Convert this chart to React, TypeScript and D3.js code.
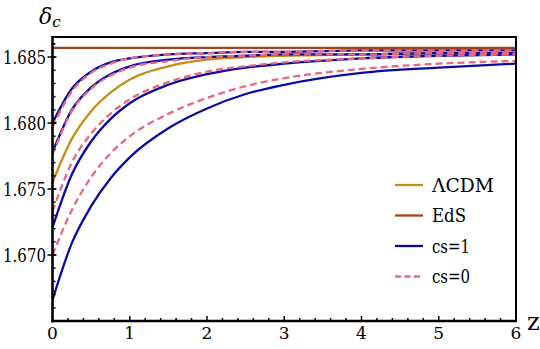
import React, { useRef, useEffect } from "react";
import * as d3 from "d3";

// redshift samples shared by every curve
const zGrid = [0, 0.25, 0.5, 0.75, 1, 1.5, 2, 2.5, 3, 4, 5, 6];

const lcdmValues = [1.6755, 1.6788, 1.6809, 1.6823, 1.6833, 1.6843, 1.6848, 1.6850, 1.6851, 1.6852, 1.6853, 1.6853];

const edsZ = [0, 6];
const edsValues = [1.6857, 1.6857];

// cs=1 (solid) and cs=0 (dashed), one row per dark energy model
const cs1Values = [
	[1.6800, 1.6826, 1.6839, 1.6846, 1.6849, 1.6852, 1.6853, 1.6854, 1.6854, 1.6855, 1.6855, 1.6855],
	[1.6778, 1.6810, 1.6827, 1.6837, 1.6843, 1.6848, 1.6850, 1.6851, 1.6852, 1.6852, 1.6853, 1.6853],
	[1.6721, 1.6761, 1.6786, 1.6803, 1.6815, 1.6829, 1.6837, 1.6842, 1.6845, 1.6849, 1.6851, 1.6852],
	[1.6666, 1.6709, 1.6737, 1.6758, 1.6774, 1.6796, 1.6811, 1.6822, 1.6829, 1.6838, 1.6842, 1.6845],
];
const cs0Values = [
	[1.6797, 1.6824, 1.6838, 1.6845, 1.6849, 1.6852, 1.6853, 1.6854, 1.6854, 1.6855, 1.6855, 1.6855],
	[1.6776, 1.6809, 1.6826, 1.6836, 1.6842, 1.6847, 1.6850, 1.6851, 1.6852, 1.6852, 1.6853, 1.6853],
	[1.6733, 1.6770, 1.6792, 1.6807, 1.6818, 1.6831, 1.6839, 1.6843, 1.6846, 1.6849, 1.6851, 1.6852],
	[1.6700, 1.6734, 1.6759, 1.6777, 1.6790, 1.6807, 1.6819, 1.6828, 1.6834, 1.6841, 1.6845, 1.6847],
];

const xTicks = [0, 1, 2, 3, 4, 5, 6];
const yTicks = [1.670, 1.675, 1.680, 1.685];
const legendLabels = ["\u039BCDM", "EdS", "cs=1", "cs=0"];

const GOLD = "#c48e17";
const BROWN = "#a3421f";
const BLUE = "#0b0ba3";
const PINK = "#e8687f";

const FONT = "\"DejaVu Serif\", \"Liberation Serif\", serif";

const App = () => {
	const svgRef = useRef(null);
	const width = 540;
	const height = 349;

	useEffect(() => {
		const svg = d3.select(svgRef.current);
		svg.selectChildren().remove();

		const left = 52.5, right = 516, top = 37, bottom = 321;
		const x = d3.scaleLinear().domain([0, 6]).range([left, right]);
		const y = d3.scaleLinear().domain([1.665, 1.68652]).range([bottom, top]);

		const line = d3.line()
			.x(d => x(d[0]))
			.y(d => y(d[1]))
			.curve(d3.curveMonotoneX);

		const g = svg.append("g").style("font-family", FONT);
		g.append("defs").append("clipPath").attr("id", "plotclip")
			.append("rect").attr("x", left).attr("y", top).attr("width", right - left).attr("height", bottom - top);
		const plot = g.append("g").attr("clip-path", "url(#plotclip)");

		const draw = (zs, vs, color, dashed) => {
			plot.append("path")
				.datum(zs.map((z, i) => [z, vs[i]]))
				.attr("fill", "none")
				.attr("stroke", color)
				.attr("stroke-width", 2.3)
				.attr("stroke-dasharray", dashed ? "7,4" : null)
				.attr("d", line);
		};

		draw(edsZ, edsValues, BROWN, false);
		draw(zGrid, lcdmValues, GOLD, false);
		cs1Values.forEach(vs => draw(zGrid, vs, BLUE, false));
		cs0Values.forEach(vs => draw(zGrid, vs, PINK, true));

		// frame
		g.append("line").attr("x1", left).attr("x2", right).attr("y1", top).attr("y2", top)
			.attr("stroke", "#000").attr("stroke-width", 2);
		g.append("line").attr("x1", right).attr("x2", right).attr("y1", top - 1).attr("y2", bottom)
			.attr("stroke", "#000").attr("stroke-width", 2);

		// x axis with minor ticks every 0.2
		const xMinor = d3.range(0, 6.0001, 0.2);
		g.selectAll(".xminor").data(xMinor).enter().append("line")
			.attr("x1", d => x(d)).attr("x2", d => x(d))
			.attr("y1", bottom).attr("y2", d => Math.abs(d - Math.round(d)) < 1e-6 ? bottom - 5 : bottom - 3)
			.attr("stroke", "#000").attr("stroke-width", 1.5);
		g.append("line").attr("x1", left - 1.3).attr("x2", right + 1).attr("y1", bottom).attr("y2", bottom)
			.attr("stroke", "#000").attr("stroke-width", 2.6);
		g.selectAll(".xlab").data(xTicks).enter().append("text")
			.attr("x", d => x(d)).attr("y", bottom + 18)
			.attr("text-anchor", "middle")
			.style("font-size", "17px")
			.text(d => d);

		// y axis with minor ticks every 0.001
		const yMinor = d3.range(1.665, 1.6866, 0.001);
		g.selectAll(".yminor").data(yMinor).enter().append("line")
			.attr("x1", left).attr("x2", left + 3)
			.attr("y1", d => y(d)).attr("y2", d => y(d))
			.attr("stroke", "#000").attr("stroke-width", 1.5);
		g.selectAll(".ymajor").data(yTicks).enter().append("line")
			.attr("x1", left - 5).attr("x2", left + 4)
			.attr("y1", d => y(d)).attr("y2", d => y(d))
			.attr("stroke", "#000").attr("stroke-width", 1.5);
		g.append("line").attr("x1", left).attr("x2", left).attr("y1", top - 1).attr("y2", bottom + 1.3)
			.attr("stroke", "#000").attr("stroke-width", 2.6);
		g.selectAll(".ylab").data(yTicks).enter().append("text")
			.attr("x", 3).attr("y", d => y(d) + 6.5)
			.attr("textLength", 43).attr("lengthAdjust", "spacingAndGlyphs")
			.style("font-size", "18px")
			.text(d => d3.format(".3f")(d));

		// axis labels
		const yl = g.append("text").attr("x", 39).attr("y", 24)
			.style("font-size", "22px").style("font-style", "italic");
		yl.append("tspan").text("\u03B4");
		yl.append("tspan").attr("dy", 3).style("font-size", "15px").text("c");
		g.append("text").attr("x", 527).attr("y", 330)
			.style("font-size", "24px")
			.text("z");

		// legend
		const legendColors = [GOLD, BROWN, BLUE, PINK];
		const legendWidths = [62, 34, 38, 38];
		const legendY = [185, 215.5, 246, 276.5];
		legendLabels.forEach((label, i) => {
			g.append("line")
				.attr("x1", 395).attr("x2", 423)
				.attr("y1", legendY[i]).attr("y2", legendY[i])
				.attr("stroke", legendColors[i]).attr("stroke-width", 2.3)
				.attr("stroke-dasharray", i === 3 ? "6,3.5" : null);
			g.append("text")
				.attr("x", 432).attr("y", legendY[i] + 6.5)
				.attr("textLength", legendWidths[i]).attr("lengthAdjust", "spacingAndGlyphs")
				.style("font-size", "18px")
				.text(label);
		});
	});

	return (
		<div className='delta_plot'>
			<svg ref={svgRef} width={width} height={height}
				style={{ position: "absolute", left: 0, top: 0, background: "#fff" }}>
			</svg>
		</div>
	);
};

export default App;
